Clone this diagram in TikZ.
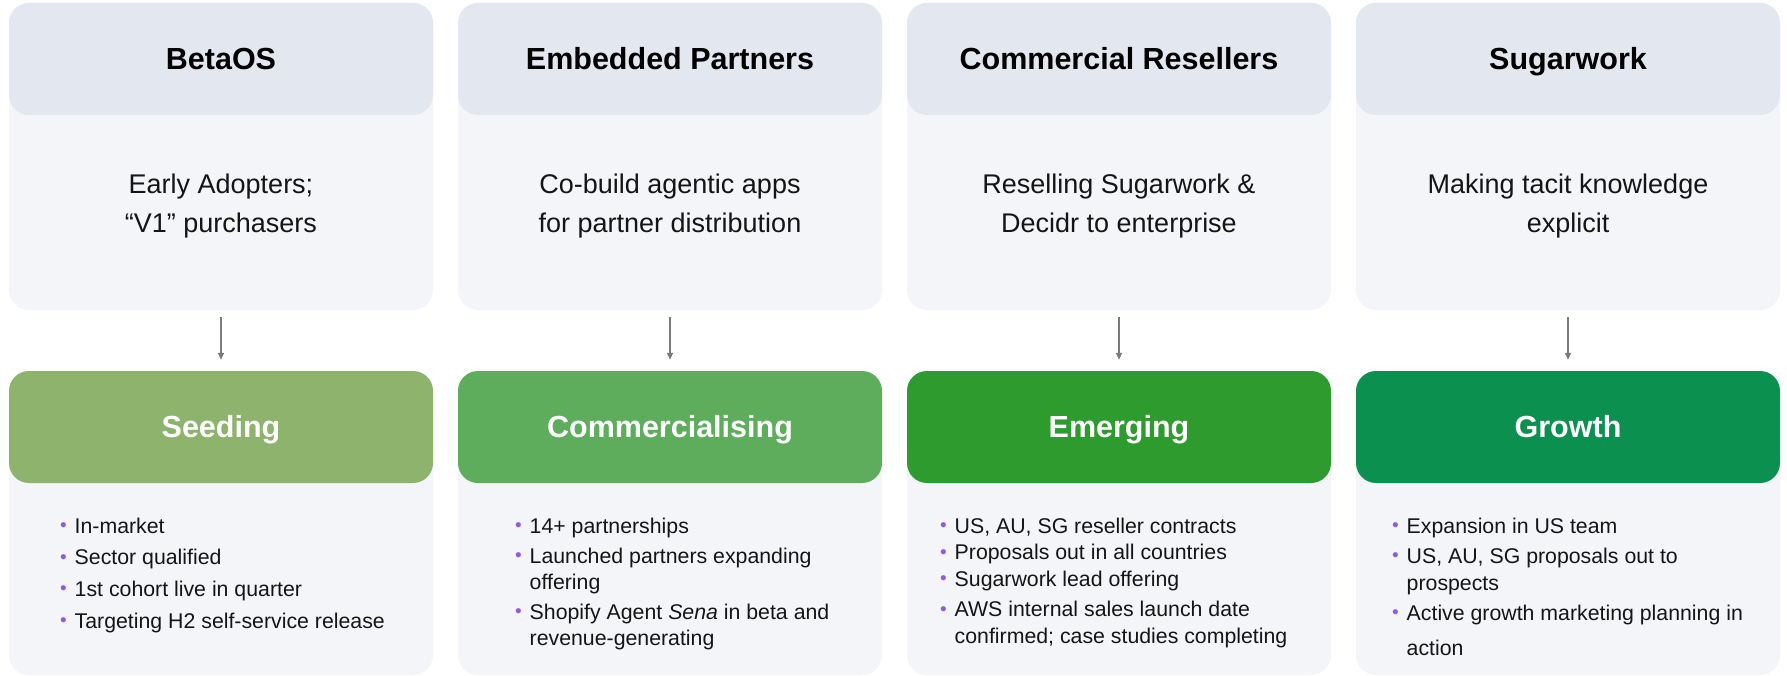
\documentclass[tikz,border=0pt]{standalone}
\usepackage{fontspec}
\setmainfont{Liberation Sans}
\usetikzlibrary{arrows.meta}
\definecolor{hdrc}{HTML}{E3E8F0}
\definecolor{bodyc}{HTML}{F3F5F9}
\definecolor{seedc}{HTML}{8DB36D}
\definecolor{commc}{HTML}{5EAD5C}
\definecolor{emerc}{HTML}{2E9B2E}
\definecolor{growc}{HTML}{0B904F}
\definecolor{txtc}{HTML}{151515}
\definecolor{bulc}{HTML}{8E5BE8}
\definecolor{arrc}{HTML}{7A7A7A}
\newcommand{\bitem}[1]{\par\hangindent=14.5pt\hangafter=1\noindent\makebox[14.5pt][l]{\textcolor{bulc}{\raisebox{1.5pt}{\fontsize{19}{19}\selectfont •}}}#1}
\tikzset{
  cardbody/.style={fill=bodyc, rounded corners=20pt, minimum width=424pt, inner sep=0pt, draw=none},
  tophdr/.style={fill=hdrc, rounded corners=20pt, minimum width=424pt, minimum height=112pt, inner sep=0pt,
    text height=24pt, text depth=3pt, font=\fontsize{30.5}{36}\selectfont\bfseries, text=black},
  stagehdr/.style={rounded corners=20pt, minimum width=424pt, minimum height=112pt, inner sep=0pt,
    text height=24pt, text depth=3pt, font=\fontsize{30.5}{36}\selectfont\bfseries, text=white},
  desc/.style={align=center, inner sep=0pt, text=txtc, font=\fontsize{27}{39.5}\selectfont},
  blist/.style={anchor=base west, inner sep=0pt, text=txtc},
  arr/.style={draw=arrc, line width=1.6pt, -{Triangle[length=7pt,width=6pt]}, shorten <=7pt, shorten >=11pt}
}
\begin{document}
\begin{tikzpicture}[x=1pt,y=-1pt]
\useasboundingbox[fill=white] (0,0) rectangle (1787,676);
% top cards
\node[cardbody, minimum height=307pt] (t1) at (221,156.5) {};
\node[cardbody, minimum height=307pt] (t2) at (670,156.5) {};
\node[cardbody, minimum height=307pt] (t3) at (1119,156.5) {};
\node[cardbody, minimum height=307pt] (t4) at (1568,156.5) {};
\node[tophdr] (h1) at (221,59) {BetaOS};
\node[tophdr] (h2) at (670,59) {Embedded Partners};
\node[tophdr] (h3) at (1119,59) {Commercial Resellers};
\node[tophdr] (h4) at (1568,59) {Sugarwork};
\node[desc] (d1) at (221,206) {Early Adopters;\\“V1” purchasers};
\node[desc] (d2) at (670,206) {Co-build agentic apps\\for partner distribution};
\node[desc] (d3) at (1119,206) {Reselling Sugarwork \&\\Decidr to enterprise};
\node[desc] (d4) at (1568,206) {Making tacit knowledge\\explicit};
% bottom cards
\node[cardbody, minimum height=304pt] (b1) at (221,523) {};
\node[cardbody, minimum height=304pt] (b2) at (670,523) {};
\node[cardbody, minimum height=304pt] (b3) at (1119,523) {};
\node[cardbody, minimum height=304pt] (b4) at (1568,523) {};
\node[stagehdr, fill=seedc] (g1) at (221,427) {Seeding};
\node[stagehdr, fill=commc] (g2) at (670,427) {Commercialising};
\node[stagehdr, fill=emerc] (g3) at (1119,427) {Emerging};
\node[stagehdr, fill=growc] (g4) at (1568,427) {Growth};
% arrows
\draw[arr] (t1.south) -- (g1.north);
\draw[arr] (t2.south) -- (g2.north);
\draw[arr] (t3.south) -- (g3.north);
\draw[arr] (t4.south) -- (g4.north);
% bullet lists
\node[blist] (l1) at (60,533) {\parbox[t]{380pt}{\fontsize{21.3}{31.7}\selectfont\parskip=0pt
  \bitem{In-market}
  \bitem{Sector qualified}
  \bitem{1st cohort live in quarter}
  \bitem{Targeting H2 self-service release}}};
\node[blist] (l2) at (515,533) {\parbox[t]{380pt}{\fontsize{21.3}{26}\selectfont\parskip=4pt
  \bitem{14+ partnerships}
  \bitem{Launched partners expanding\newline offering}
  \bitem{Shopify Agent \textit{Sena} in beta and\newline revenue-generating}}};
\node[blist] (l3) at (940,533) {\parbox[t]{380pt}{\fontsize{21.3}{26.5}\selectfont\parskip=0pt
  \bitem{US, AU, SG reseller contracts}
  \bitem{Proposals out in all countries}
  \bitem{Sugarwork lead offering}\par\vspace{4pt}
  \bitem{AWS internal sales launch date\newline confirmed; case studies completing}}};
\node[blist] (l4) at (1392,533) {\parbox[t]{380pt}{\fontsize{21.3}{27}\selectfont\parskip=3pt
  \bitem{Expansion in US team}
  \bitem{US, AU, SG proposals out to\newline prospects}
  \bitem{Active growth marketing planning in\newline\rule{0pt}{30pt}action}}};
\end{tikzpicture}
\end{document}
